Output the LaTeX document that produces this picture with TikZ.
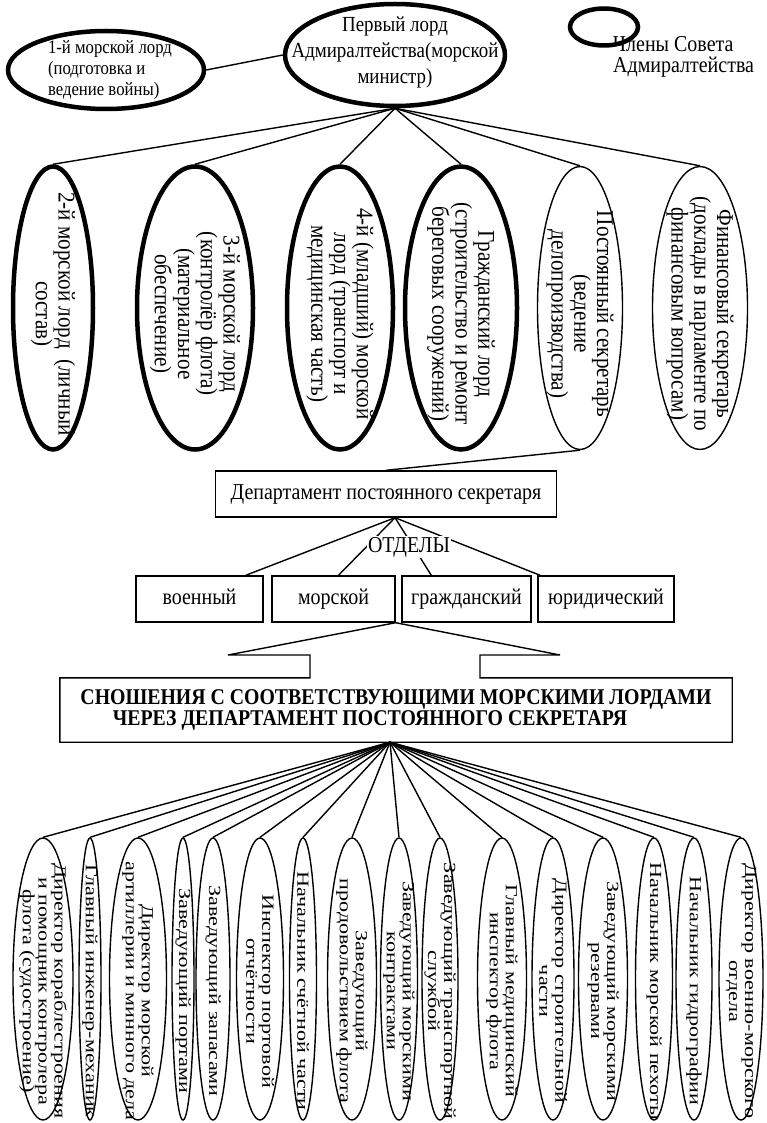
\documentclass[tikz,border=0pt]{standalone}
\usepackage{fontspec}
\setmainfont{Liberation Serif}[FakeStretch=0.88]
\newfontfamily\widefont[FakeStretch=1.3]{Liberation Serif}
\usetikzlibrary{shapes.geometric, calc}

\begin{document}
\begin{tikzpicture}[
  x=1pt, y=-1pt,
  lord/.style   = {ellipse, draw, line width=4.5pt, inner sep=0pt},
  member/.style = {ellipse, draw, line width=1.4pt, inner sep=0pt},
  htext/.style  = {align=center, inner sep=0pt,
                   font=\fontsize{21.5}{26}\selectfont},
  vtext/.style  = {rotate=-90, align=center, inner sep=0pt,
                   font=\fontsize{24}{21}\selectfont},
  stext/.style  = {rotate=-90, align=center, inner sep=0pt,
                   font=\widefont\fontsize{17}{16}\selectfont},
  dept/.style   = {rectangle, draw, line width=1.4pt, minimum height=46pt,
                   inner sep=2pt, text height=15pt, text depth=5pt,
                   font=\fontsize{22.7}{22}\selectfont},
  link/.style   = {line width=1.4pt},
]
  \fill[white] (0,0) rectangle (766,1123);

  % Board of Admiralty
  \node[lord, minimum width=220pt, minimum height=102pt] (first) at (395,55) {};
  \node[htext] (first-t) at ($(first)+(0,-3)$) {Первый лорд\\Адмиралтейства(морской\\министр)};

  \node[lord, minimum width=196pt, minimum height=78pt] (sea1) at (106,70) {};
  \node[htext, align=left, font=\fontsize{19}{21}\selectfont] (sea1-t) at ($(sea1)+(4,0)$)
    {1-й морской лорд\\ (подготовка и\\ведение войны)};
  \draw[link] (sea1.east) -- (first.west);

  % legend
  \node[lord, minimum width=68pt, minimum height=37pt] (leg) at (604,27) {};
  \node[anchor=north west, align=left, inner sep=0pt,
        font=\fontsize{22.7}{21}\selectfont] (leg-t) at (613,36)
    {Члены Совета\\Адмиралтейства};

  % lords and secretaries
  \foreach \n/\x/\w/\lw/\t in {
    e2/53/80/4.5pt/{2-й морской лорд\ \ (личный\\состав)},
    e3/195/116/4.5pt/{3-й морской лорд\\(контролёр флота)\\(материальное\\обеспечение)},
    e4/340/106/4.5pt/{4-й (младший) морской\\лорд (транспорт и\\медицинская часть)},
    civ/461/112/4.5pt/{Гражданский лорд\\(строительство и ремонт\\береговых сооружений)},
    psec/580/85/1.4pt/{Постоянный секретарь\\(ведение\\делопроизводства)},
    fsec/700/95/1.4pt/{Финансовый секретарь\\(доклады в парламенте по\\финансовым вопросам)}}
  {
    \node[member, line width=\lw, minimum width=\w pt, minimum height=283pt] (\n) at (\x,308) {};
    \node[vtext] (\n-t) at ($(\n)+(0,6)$) {\t};
    \draw[link] (first.south) -- (\n.north);
  }

  % department of the permanent secretary
  \node[dept, minimum width=341pt] (psd) at (386,494) {Департамент постоянного секретаря};
  \draw[link] (psec.south) -- (psd.north);
  \coordinate (psd-o) at ($(psd.south)+(9,0)$);

  \node[dept, minimum width=127pt] (voen)   at (199.5,599) {военный};
  \node[dept, minimum width=123pt] (morsk)  at (333.5,599) {морской};
  \node[dept, minimum width=129pt] (grazhd) at (466.5,599) {гражданский};
  \node[dept, minimum width=136pt] (yurid)  at (606,599)   {юридический};

  \draw[link] (psd-o) -- ($(voen.north west)!0.86!(voen.north east)$);
  \draw[link] (psd-o) -- ($(morsk.north west)!0.54!(morsk.north east)$);
  \draw[link] (psd-o) -- ($(grazhd.north west)!0.23!(grazhd.north east)$);
  \draw[link] (psd-o) -- ($(yurid.north west)!0.02!(yurid.north east)$);
  \node[fill=white, inner sep=1pt, font=\fontsize{22.7}{22}\selectfont] (otd) at (409,547) {ОТДЕЛЫ};

  % liaison block
  \node[align=center, inner sep=0pt, minimum width=672pt, minimum height=64pt,
        font=\bfseries\fontsize{22.5}{19}\selectfont] (rel) at (396,710)
    {СНОШЕНИЯ С СООТВЕТСТВУЮЩИМИ МОРСКИМИ ЛОРДАМИ\\ЧЕРЕЗ ДЕПАРТАМЕНТ ПОСТОЯННОГО СЕКРЕТАРЯ\hspace*{52pt}};
  \coordinate (sh-l) at (228,655);
  \coordinate (nt-l) at (310,655);
  \coordinate (nt-r) at (480,655);
  \coordinate (sh-r) at (560,655);
  \draw[link] (morsk.south east) -- (sh-l) -- (nt-l) -- (nt-l |- rel.north)
    -- (rel.north west) -- (rel.south west) -- (rel.south east) -- (rel.north east)
    -- (nt-r |- rel.north) -- (nt-r) -- (sh-r) -- cycle;
  \coordinate (rel-o) at ($(rel.south)+(-6,0)$);

  % heads of departments
  \foreach \n/\x/\w/\t in {
    b1/43/60/{Директор кораблестроения\\и помощник контролера\\флота (судостроение)},
    b2/90/22/{Главный инженер-механик},
    b3/138/57/{Директор морской\\артиллерии и минного дела},
    b4/183/22/{Заведующий портами},
    b5/213/34/{Заведующий запасами},
    b6/260/47/{Инспектор портовой\\отчётности},
    b7/303/27/{Начальник счётной части},
    b8/352/49/{Заведующий\\продовольствием флота},
    b9/399/37/{Заведующий морскими\\контрактами},
    b10/440/36/{Заведующий транспортной\\службой},
    b11/502/49/{Главный медицинский\\инспектор флота},
    b12/553/42/{Директор строительной\\части},
    b13/603/49/{Заведующий морскими\\резервами},
    b14/654/37/{Начальник морской пехоты},
    b15/694/36/{Начальник гидрографии},
    b16/741/44/{Директор военно-морского\\отдела}}
  {
    \node[member, minimum width=\w pt, minimum height=282pt] (\n) at (\x,979) {};
    \node[stext] (\n-t) at ($(\n)+(0,12)$) {\t};
    \draw[link] (rel-o) -- (\n.north);
  }
\end{tikzpicture}
\end{document}
